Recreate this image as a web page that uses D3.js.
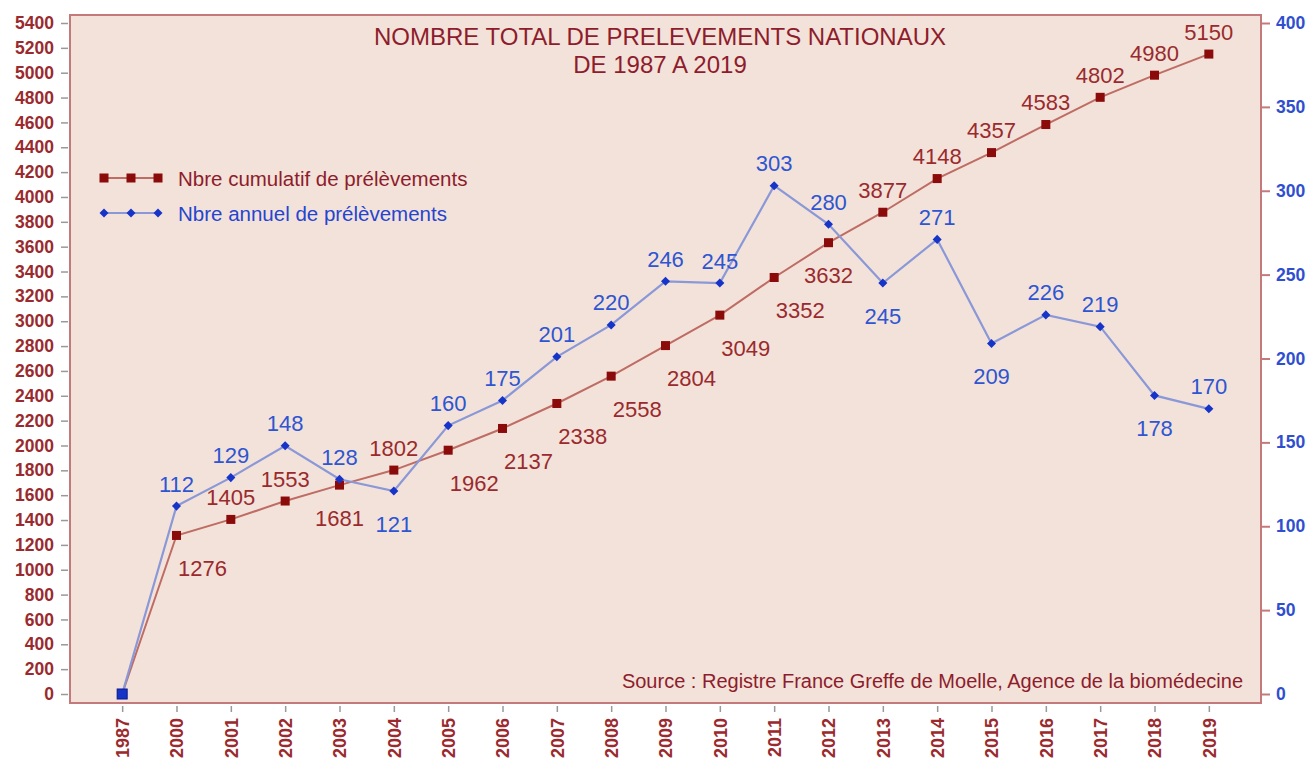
<!DOCTYPE html>
<html><head><meta charset="utf-8">
<script src="https://cdn.jsdelivr.net/npm/d3@7/dist/d3.min.js"></script>
<style>
html,body{margin:0;padding:0;background:#fff;}
text{font-family:"Liberation Sans",Arial,sans-serif;}
</style></head>
<body><svg id="c" width="1310" height="763"></svg>
<script>
const years = ["1987","2000","2001","2002","2003","2004","2005","2006","2007","2008","2009","2010","2011","2012","2013","2014","2015","2016","2017","2018","2019"];
const cumulative = [0,1276,1405,1553,1681,1802,1962,2137,2338,2558,2804,3049,3352,3632,3877,4148,4357,4583,4802,4980,5150];
const annual = [0,112,129,148,128,121,160,175,201,220,246,245,303,280,245,271,209,226,219,178,170];
const leftTicks = d3.range(0,5401,200);
const rightTicks = [0,50,100,150,200,250,300,350,400];
const cumSide = ["none","below","above","above","below","above","below","below","below","below","below","below","below","below","above","above","above","above","above","above","above"];
const cumShift = [0,1,0,0,0,0,1,1,1,1,1,1,1,0,0,0,0,0,0,0,0];
const annSide = ["none","above","above","above","above","below","above","above","above","above","above","above","above","above","below","above","below","above","above","below","above"];
const titleLines = ["NOMBRE TOTAL DE PRELEVEMENTS NATIONAUX","DE 1987 A 2019"];
const legendLabels = ["Nbre cumulatif de prélèvements","Nbre annuel de prélèvements"];
const sourceText = "Source : Registre France Greffe de Moelle, Agence de la biomédecine";

const plot={l:70,t:15,r:1261,b:703};
const svg=d3.select("#c");
const RED="#8B0A0A", REDLINE="#BE6C64", REDTXT="#9A2A2E", BLUE="#1634C8", BLUELINE="#8A98D8", BLUETXT="#2E55D2", BORDER="#C47A7A";

svg.append("rect").attr("x",plot.l).attr("y",plot.t).attr("width",plot.r-plot.l).attr("height",plot.b-plot.t)
  .attr("fill","#F3E2D9").attr("stroke",BORDER).attr("stroke-width",2);

const x=d3.scalePoint().domain(years).range([plot.l,plot.r]).padding(0.96);
const yL=d3.scaleLinear().domain([0,5400]).range([694,23]);
const yR=d3.scaleLinear().domain([0,400]).range([694,23]);

// left axis
const gL=svg.append("g").attr("transform",`translate(${plot.l-2},0)`)
  .call(d3.axisLeft(yL).tickValues(leftTicks).tickSize(7).tickPadding(7).tickFormat(d3.format("d")));
gL.select(".domain").remove();
gL.selectAll("line").attr("stroke","#999").attr("stroke-width",1.5);
gL.selectAll("text").attr("fill","#9A2A2E").attr("font-size","17.5px").attr("font-weight","bold").style("font-family","Liberation Sans, Arial");

// right axis
const gR=svg.append("g").attr("transform",`translate(${plot.r+1},0)`)
  .call(d3.axisRight(yR).tickValues(rightTicks).tickSize(8).tickPadding(6));
gR.select(".domain").remove();
gR.selectAll("line").attr("stroke","#C47A7A").attr("stroke-width",2);
gR.selectAll("text").attr("fill","#2F4FD0").attr("font-size","17.5px").attr("font-weight","bold").style("font-family","Liberation Sans, Arial");

// bottom axis
const gB=svg.append("g").attr("transform",`translate(0,${plot.b+3})`)
  .call(d3.axisBottom(x).tickSize(6).tickPadding(4));
gB.select(".domain").remove();
gB.selectAll("line").attr("stroke","#999").attr("stroke-width",1.5);
gB.selectAll("text").attr("fill","#9A2A2E").attr("font-size","18px").attr("font-weight","bold")
  .style("font-family","Liberation Sans, Arial")
  .attr("transform","rotate(-90)").attr("text-anchor","end").attr("dy","0.36em").attr("x",-12).attr("y",0);

// title
svg.append("g").selectAll("text").data(titleLines).join("text")
  .attr("x",660).attr("y",(d,i)=>45+i*28).attr("text-anchor","middle")
  .attr("fill","#8E1C2C").attr("font-size","24px").text(d=>d);

// lines
const lineC=d3.line().x((d,i)=>x(years[i])).y(d=>yL(d));
const lineA=d3.line().x((d,i)=>x(years[i])).y(d=>yR(d));
svg.append("path").datum(cumulative).attr("d",lineC).attr("fill","none").attr("stroke",REDLINE).attr("stroke-width",2);
svg.append("path").datum(annual).attr("d",lineA).attr("fill","none").attr("stroke",BLUELINE).attr("stroke-width",2.2);

// markers
svg.append("g").selectAll("rect").data(cumulative).join("rect")
  .attr("x",(d,i)=>x(years[i])-4.5).attr("y",d=>yL(d)-4.5).attr("width",9).attr("height",9).attr("fill",RED);
function diamondAt(g,cx,cy){
  g.append("rect").attr("x",-3.2).attr("y",-3.2).attr("width",6.4).attr("height",6.4)
   .attr("transform",`translate(${cx},${cy}) rotate(45)`).attr("fill",BLUE);
}
const gD=svg.append("g");
annual.forEach((v,i)=>{
  if(i===0){
    gD.append("rect").attr("x",x(years[i])-5).attr("y",yR(v)-5).attr("width",10).attr("height",10)
      .attr("fill","#1634C8").attr("stroke","#0A1A90").attr("stroke-width",1);
  } else diamondAt(gD,x(years[i]),yR(v));
});

// labels
const cumData=cumulative.map((v,i)=>({v,i})).filter(d=>cumSide[d.i]!=="none");
svg.append("g").selectAll("text").data(cumData).join("text")
  .attr("x",d=>x(years[d.i])+(cumShift[d.i]?26:0))
  .attr("y",d=>yL(d.v)+(cumSide[d.i]==="above"?-22:33))
  .attr("dominant-baseline","central").attr("text-anchor","middle")
  .attr("fill",REDTXT).attr("font-size","22px").text(d=>d.v);
const annData=annual.map((v,i)=>({v,i})).filter(d=>annSide[d.i]!=="none");
svg.append("g").selectAll("text").data(annData).join("text")
  .attr("x",d=>x(years[d.i]))
  .attr("y",d=>yR(d.v)+(annSide[d.i]==="above"?-22:33))
  .attr("dominant-baseline","central").attr("text-anchor","middle")
  .attr("fill",BLUETXT).attr("font-size","22px").text(d=>d.v);

// legend
const leg=svg.append("g");
[0,1].forEach(k=>{
  const yy= k===0?178:213;
  const col= k===0?REDLINE:BLUELINE;
  leg.append("line").attr("x1",104).attr("x2",158).attr("y1",yy).attr("y2",yy).attr("stroke",col).attr("stroke-width",2);
  [104,131,158].forEach(px=>{
    if(k===0) leg.append("rect").attr("x",px-4.5).attr("y",yy-4.5).attr("width",9).attr("height",9).attr("fill",RED);
    else diamondAt(leg,px,yy);
  });
  leg.append("text").attr("x",178).attr("y",yy).attr("dominant-baseline","central")
    .attr("fill",k===0?"#8E1C2C":"#2545D0").attr("font-size","20.5px").text(legendLabels[k]);
});

// source
svg.append("text").attr("x",1243).attr("y",681).attr("text-anchor","end").attr("dominant-baseline","central")
  .attr("fill","#8E1C2C").attr("font-size","20px").text(sourceText);
</script></body></html>
